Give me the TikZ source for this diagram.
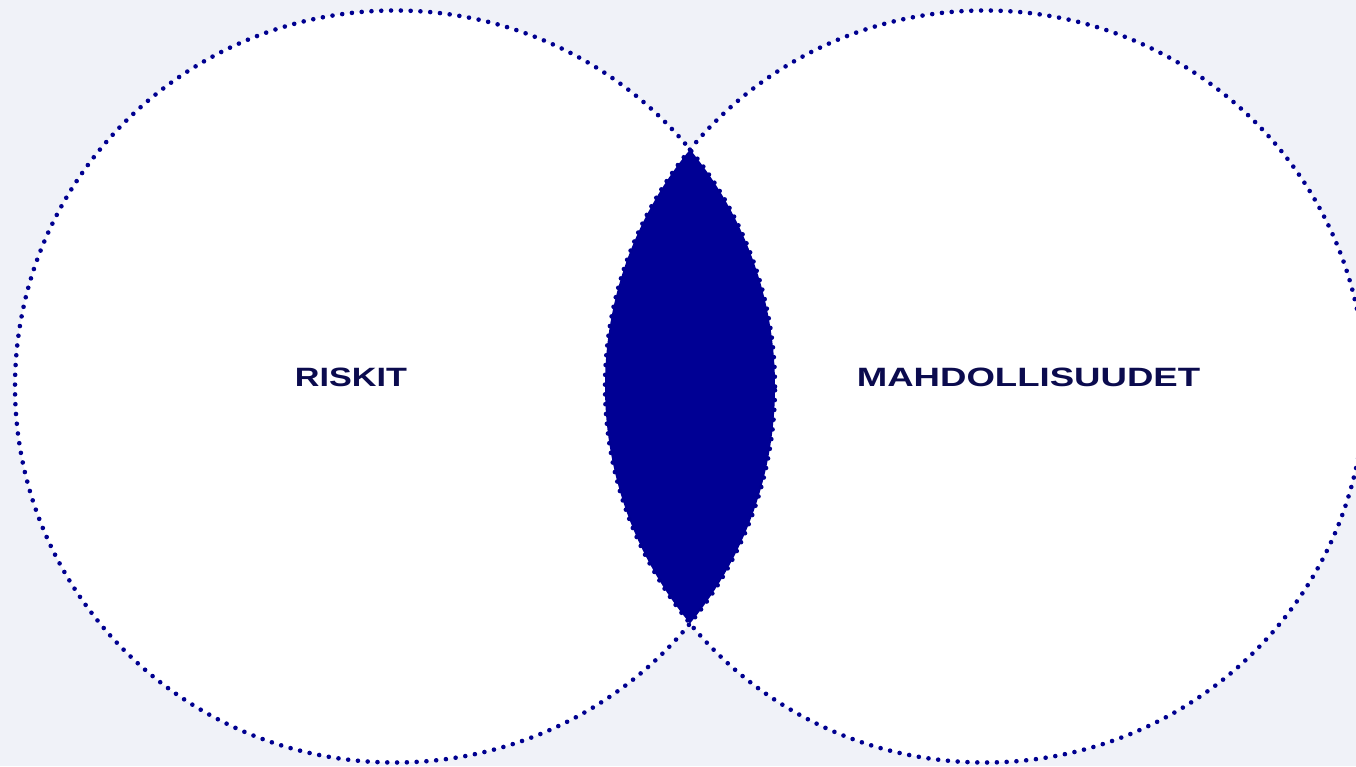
\documentclass[tikz,border=0pt]{standalone}
\usepackage{fontspec}
\setmainfont{Liberation Sans}
\newfontfamily\wideA{Liberation Sans}[FakeStretch=1.29]
\newfontfamily\wideB{Liberation Sans}[FakeStretch=1.38]
\definecolor{bgc}{HTML}{F0F2F8}
\definecolor{dotc}{HTML}{000090}
\definecolor{lensc}{HTML}{000094}
\definecolor{txtc}{HTML}{0B0B4E}
\tikzset{
  dotring/.style={draw=dotc, line width=4.6pt, line cap=round, dash pattern=on 0pt off 9.8pt},
  lbl/.style={text=txtc, inner sep=0pt, anchor=center}
}
\begin{document}
\begin{tikzpicture}[x=1pt,y=1pt]
\useasboundingbox (0,0) rectangle (1356,766);
\fill[bgc] (0,0) rectangle (1356,766);
\clip (0,0) rectangle (1356,766);
\coordinate (cl) at (395,379.5);
\coordinate (cr) at (985,379.5);
\fill[white] (cl) ellipse [x radius=380, y radius=376];
\fill[white] (cr) ellipse [x radius=380, y radius=376];
\begin{scope}
  \clip (cl) ellipse [x radius=380, y radius=376];
  \fill[lensc] (cr) ellipse [x radius=380, y radius=376];
\end{scope}
\draw[dotring] (cl) ellipse [x radius=380, y radius=376];
\draw[dotring] (cr) ellipse [x radius=380, y radius=376];
\node[lbl, font=\wideA\bfseries\fontsize{26.5}{26.5}\selectfont] (riskit) at (351,389) {RISKIT};
\node[lbl, font=\wideB\bfseries\fontsize{26.5}{26.5}\selectfont] (mahd) at (1028.5,389) {MAHDOLLISUUDET};
\end{tikzpicture}
\end{document}
